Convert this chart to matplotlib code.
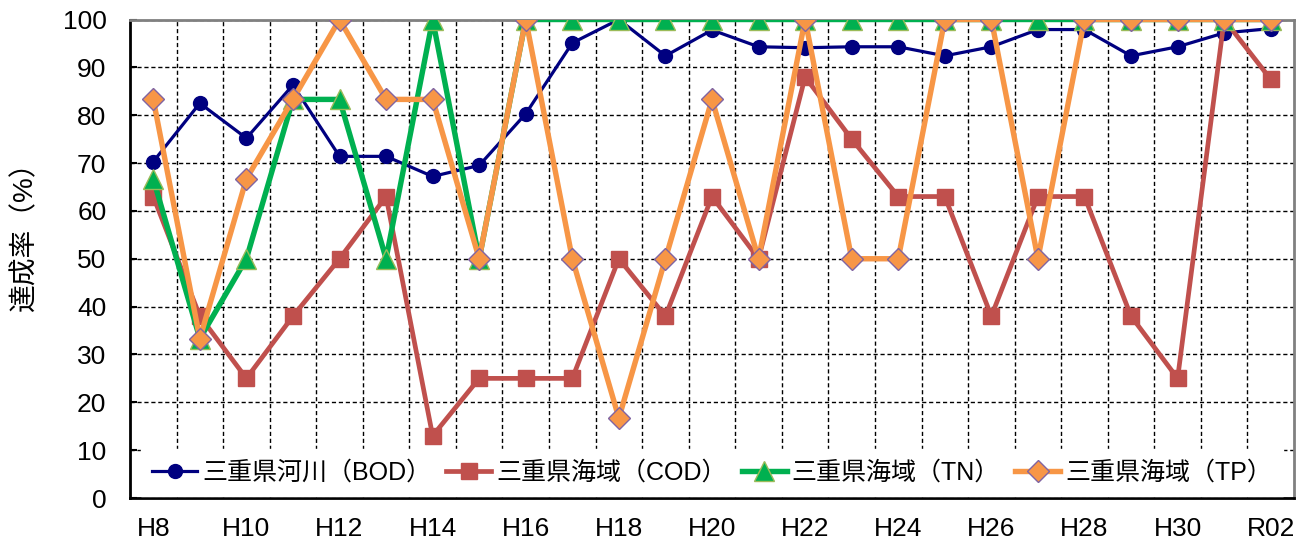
import matplotlib
matplotlib.use("Agg")
import matplotlib.pyplot as plt
from matplotlib.ticker import MultipleLocator, FixedLocator

plt.rcParams['font.family'] = ['Liberation Sans', 'Noto Sans CJK JP', 'DejaVu Sans']

years = ["H8", "H9", "H10", "H11", "H12", "H13", "H14", "H15", "H16", "H17",
         "H18", "H19", "H20", "H21", "H22", "H23", "H24", "H25", "H26", "H27",
         "H28", "H29", "H30", "H31", "R02"]

bod = [70.3, 82.5, 75.2, 86.3, 71.4, 71.4, 67.2, 69.5, 80.3, 95.1,
       100, 92.4, 97.8, 94.3, 94.1, 94.3, 94.3, 92.4, 94.3, 97.9,
       97.9, 92.4, 94.3, 97.2, 98.1]
cod = [63.0, 38.0, 25.0, 38.0, 50.0, 63.0, 13.0, 25.0, 25.0, 25.0,
       50.0, 38.0, 63.0, 50.0, 88.0, 75.0, 63.0, 63.0, 38.0, 63.0,
       63.0, 38.0, 25.0, 100.0, 87.5]
tn = [66.7, 33.3, 50.0, 83.3, 83.3, 50.0, 100, 50.0, 100, 100,
      100, 100, 100, 100, 100, 100, 100, 100, 100, 100,
      100, 100, 100, 100, 100]
tp = [83.3, 33.3, 66.7, 83.3, 100, 83.3, 83.3, 50.0, 100, 50.0,
      16.7, 50.0, 83.3, 50.0, 100, 50.0, 50.0, 100, 100, 50.0,
      100, 100, 100, 100, 100]

labels = ["三重県河川（BOD）", "三重県海域（COD）", "三重県海域（TN）", "三重県海域（TP）"]

fig = plt.figure(figsize=(13.06, 5.5), dpi=100)
ax = fig.add_axes([130 / 1306, 52 / 550, 1164 / 1306, 478.5 / 550])

x = list(range(len(years)))
ax.plot(x, bod, color='#000080', lw=2.3, marker='o', ms=10,
        mfc='#000080', mec='#000080', label=labels[0], zorder=3)
ax.plot(x, cod, color='#C0504D', lw=3.4, marker='s', ms=11.5,
        mfc='#C0504D', mec='#C0504D', label=labels[1], zorder=4)
ax.plot(x, tn, color='#00B050', lw=3.9, marker='^', ms=14,
        mfc='#00B050', mec='#9BBB59', mew=1.0, label=labels[2], zorder=5)
ax.plot(x, tp, color='#F79646', lw=3.9, marker='D', ms=11,
        mfc='#F79646', mec='#8064A2', mew=1.0, label=labels[3], zorder=6)

ax.set_xlim(-0.5, len(years) - 0.5)
ax.set_ylim(0, 100)
ax.yaxis.set_major_locator(MultipleLocator(10))
ax.set_xticks(x[::2])
ax.set_xticklabels(years[::2])
ax.xaxis.set_minor_locator(FixedLocator([i + 0.5 for i in range(len(years) - 1)]))

ax.grid(axis='y', which='major', color='black', linestyle=(0, (3, 2)), lw=1.0)
ax.grid(axis='x', which='minor', color='black', linestyle=(0, (3, 2)), lw=1.0)
ax.set_axisbelow(True)

ax.tick_params(axis='x', which='both', length=0, labelsize=19, pad=14)
ax.tick_params(axis='y', which='major', direction='in', length=5, width=1.5,
               labelsize=19, pad=17)

for s in ['left', 'bottom']:
    ax.spines[s].set_color('black')
    ax.spines[s].set_linewidth(2.0)
for s in ['top', 'right']:
    ax.spines[s].set_color('#808080')
    ax.spines[s].set_linewidth(2.0)

ax.set_ylabel("達成率（%）", fontsize=20)
ax.yaxis.set_label_coords(-0.079, 0.562)

leg = ax.legend(loc='lower center', bbox_to_anchor=(0.5, 0.0), ncol=4,
                fontsize=18, frameon=True, framealpha=1.0, edgecolor='white',
                facecolor='white', handlelength=1.8, columnspacing=0.6,
                handletextpad=0.2, borderpad=0.45, borderaxespad=0.1,
                fancybox=False)
leg.set_zorder(10)

fig.savefig("out.png", dpi=100)
